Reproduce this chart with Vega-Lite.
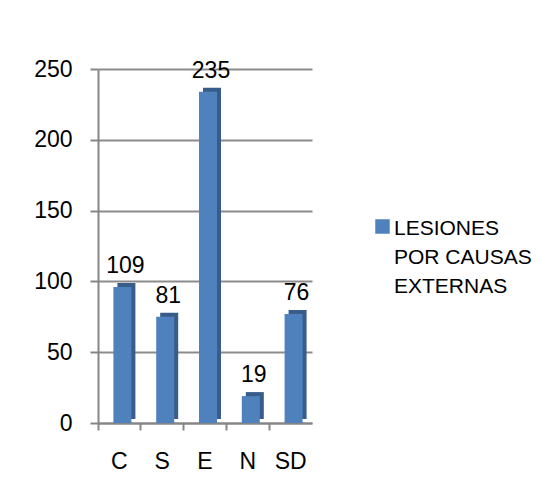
{
  "$schema": "https://vega.github.io/schema/vega-lite/v6.json",
  "width": 214,
  "height": 354,
  "autosize": {"type": "none"},
  "padding": {"left": 98, "top": 69, "right": 237, "bottom": 77},
  "background": "white",
  "config": {
    "font": "Liberation Sans",
    "view": {"stroke": null},
    "axis": {"labelFont": "Liberation Sans", "labelColor": "#000000"}
  },
  "data": {
    "values": [
      {"categoria": "C", "valor": 96, "etiqueta": "109", "serie": "LESIONES POR CAUSAS EXTERNAS"},
      {"categoria": "S", "valor": 75, "etiqueta": "81", "serie": "LESIONES POR CAUSAS EXTERNAS"},
      {"categoria": "E", "valor": 234, "etiqueta": "235", "serie": "LESIONES POR CAUSAS EXTERNAS"},
      {"categoria": "N", "valor": 19, "etiqueta": "19", "serie": "LESIONES POR CAUSAS EXTERNAS"},
      {"categoria": "SD", "valor": 77, "etiqueta": "76", "serie": "LESIONES POR CAUSAS EXTERNAS"}
    ]
  },
  "encoding": {
    "x": {
      "field": "categoria",
      "type": "nominal",
      "sort": null,
      "scale": {"paddingInner": 0, "paddingOuter": 0},
      "axis": {
        "title": null,
        "labelAngle": 0,
        "labelFontSize": 23,
        "labelPadding": 20,
        "bandPosition": 0,
        "labelOffset": 0,
        "tickColor": "#868686",
        "tickWidth": 2,
        "tickSize": 7,
        "domainColor": "#868686",
        "domainWidth": 2,
        "grid": false
      }
    },
    "y": {
      "field": "valor",
      "type": "quantitative",
      "scale": {"domain": [0, 250], "nice": false},
      "axis": {
        "title": null,
        "values": [0, 50, 100, 150, 200, 250],
        "labelFontSize": 23,
        "labelPadding": 18,
        "tickColor": "#868686",
        "tickWidth": 2,
        "tickSize": 8,
        "domainColor": "#868686",
        "domainWidth": 2,
        "grid": true,
        "gridColor": "#8c8c8c",
        "gridWidth": 2
      }
    }
  },
  "layer": [
    {
      "mark": {"type": "bar", "width": 18, "xOffset": 7, "yOffset": -4, "color": "#385D8A"},
      "encoding": {}
    },
    {
      "mark": {"type": "bar", "width": 18, "xOffset": 3},
      "encoding": {
        "color": {
          "field": "serie",
          "type": "nominal",
          "scale": {"range": ["#4F81BD"]},
          "legend": {
            "title": null,
            "orient": "none",
            "legendX": 274,
            "legendY": 147,
            "symbolType": "square",
            "symbolSize": 210,
            "symbolStrokeWidth": 0,
            "labelFontSize": 21,
            "labelFont": "Liberation Sans",
            "labelColor": "#000000",
            "labelOffset": 1,
            "labelLimit": 300,
            "labelBaseline": "top",
            "labelExpr": "['LESIONES', 'POR CAUSAS', 'EXTERNAS']",
            "encode": {"labels": {"update": {"lineHeight": {"value": 29}, "dy": {"value": -9}}}}
          }
        }
      }
    },
    {
      "mark": {"type": "text", "fontSize": 23, "baseline": "alphabetic", "dy": -14, "xOffset": 6, "color": "#000000"},
      "encoding": {"text": {"field": "etiqueta"}}
    }
  ]
}
